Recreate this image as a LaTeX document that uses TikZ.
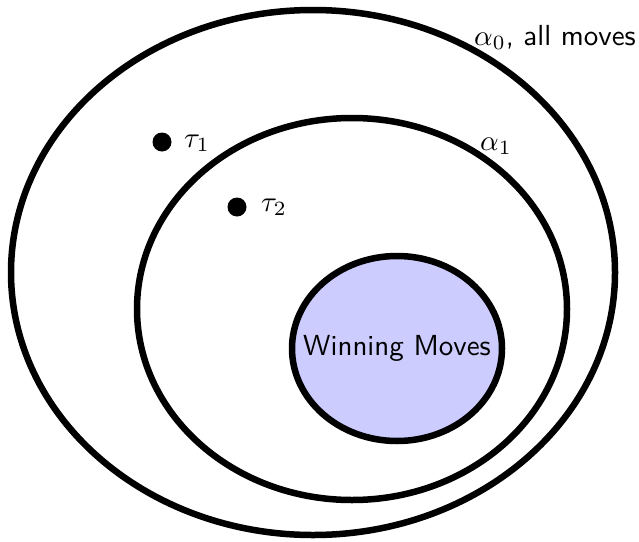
\documentclass[tikz,border=0pt]{standalone}
\usepackage{graphicx}
\usetikzlibrary{shapes.geometric}
\definecolor{winfill}{RGB}{204,204,255}
\newcommand{\bigtxt}[1]{\scalebox{2.9}{\sffamily #1}}
\begin{document}
\begin{tikzpicture}[x=1pt,y=-1pt,
  setell/.style={ellipse, draw=black, line width=6.5pt, inner sep=0pt},
  dotnode/.style={circle, fill=black, inner sep=0pt, minimum size=19pt},
  lbl/.style={anchor=base west, inner sep=0pt}]
\useasboundingbox (0,0) rectangle (639,541);
\node[setell, minimum width=604pt, minimum height=525pt] (outer) at (313,272.5) {};
\node[setell, minimum width=430pt, minimum height=382pt] (inner) at (352,309) {};
\node[setell, fill=winfill, minimum width=210pt, minimum height=185pt] (win) at (397,348.5) {};
\node[inner sep=0pt] (wintext) at (win.center) {\bigtxt{Winning Moves}};
\node[dotnode] (t1) at (162,142) {};
\node[dotnode] (t2) at (237,207) {};
\node[lbl] (t1l) at (184,147) {\bigtxt{$\tau_1$}};
\node[lbl] (t2l) at (261,211) {\bigtxt{$\tau_2$}};
\node[lbl] (a1l) at (480,150) {\bigtxt{$\alpha_1$}};
\node[lbl] (a0l) at (474,45) {\bigtxt{$\alpha_0$, all moves}};
\end{tikzpicture}
\end{document}
